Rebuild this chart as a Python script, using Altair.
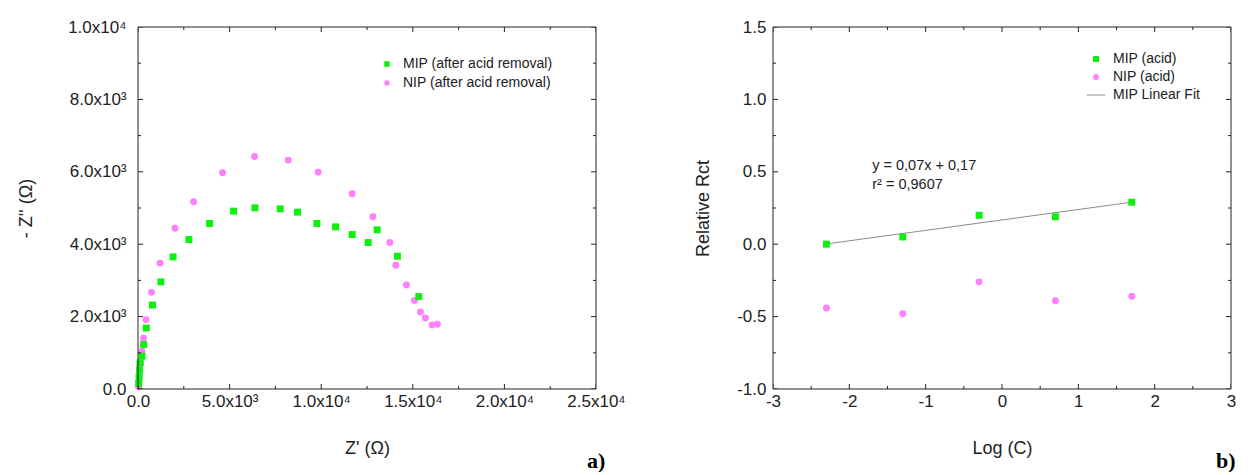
import altair as alt
import pandas as pd

# ---------------- Panel a) Nyquist data ----------------
mip_zre = [40, 60, 85, 110, 218, 310, 452, 790, 1250, 1915, 2782, 3909, 5218, 6382,
           7764, 8709, 9764, 10782, 11691, 12564, 13054, 14163, 15327]
mip_zim = [150, 330, 520, 720, 903, 1227, 1685, 2320, 2960, 3650, 4129, 4572, 4913, 5005,
           4977, 4885, 4572, 4479, 4267, 4046, 4397, 3668, 2553]
nip_zre = [30, 45, 60, 80, 110, 150, 218, 300, 440, 735, 1208, 2018, 3036, 4618, 6364,
           8200, 9836, 11691, 12818, 13745, 14072, 14654, 15091, 15418, 15691, 16054, 16345]
nip_zim = [60, 200, 350, 500, 650, 720, 1044, 1400, 1915, 2670, 3477, 4443, 5171, 5973, 6424,
           6323, 5991, 5392, 4756, 4046, 3420, 2876, 2443, 2129, 1963, 1770, 1788]
a_series = ["MIP (after acid removal)", "NIP (after acid removal)"]

# ---------------- Panel b) calibration data ----------------
logc = [-2.3, -1.3, -0.3, 0.7, 1.7]
mip_rel = [0.0, 0.05, 0.20, 0.19, 0.29]
nip_rel = [-0.44, -0.48, -0.26, -0.39, -0.36]
b_series = ["MIP (acid)", "NIP (acid)", "MIP Linear Fit"]
ann_x = [-1.70, -1.70]
ann_y = [0.54, 0.41]
ann_text = ["y = 0,07x + 0,17", "r² = 0,9607"]

# ---------------- Axis ticks / labels ----------------
a_x_dom = [0, 25000]
a_y_dom = [0, 10000]
b_x_dom = [-3, 3]
b_y_dom = [-1, 1.5]
a_x_ticks = [0, 2500, 5000, 7500, 10000, 12500, 15000, 17500, 20000, 22500, 25000]
a_x_labels = {0: "0.0", 5000: "5.0x10³", 10000: "1.0x10⁴", 15000: "1.5x10⁴",
              20000: "2.0x10⁴", 25000: "2.5x10⁴"}
a_y_ticks = [0, 1000, 2000, 3000, 4000, 5000, 6000, 7000, 8000, 9000, 10000]
a_y_labels = {0: "0.0", 2000: "2.0x10³", 4000: "4.0x10³", 6000: "6.0x10³",
              8000: "8.0x10³", 10000: "1.0x10⁴"}
b_x_ticks = [-3, -2.5, -2, -1.5, -1, -0.5, 0, 0.5, 1, 1.5, 2, 2.5, 3]
b_x_labels = {-3: "-3", -2: "-2", -1: "-1", 0: "0", 1: "1", 2: "2", 3: "3"}
b_y_ticks = [-1, -0.75, -0.5, -0.25, 0, 0.25, 0.5, 0.75, 1, 1.25, 1.5]
b_y_labels = {-1: "-1.0", -0.5: "-0.5", 0: "0.0", 0.5: "0.5", 1: "1.0", 1.5: "1.5"}

GREEN = "#0cf00c"
PINK = "#ff80ff"
GRAY = "#8c8c8c"
FONT = "Liberation Sans"
INK = "#222222"
W, H = 458, 362
MAJOR_LEN, MINOR_LEN = 10, 6   # doubled: half is clipped away, leaving inward ticks


def label_expr(mapping):
    s = "''"
    for k, v in reversed(list(mapping.items())):
        s = f"datum.value == {k} ? '{v}' : ({s})"
    return s


def axis(values, mapping, title, title_pad, label_pad):
    return alt.Axis(
        values=values, labelExpr=label_expr(mapping),
        grid=False, ticks=False, tickSize=0, domain=False,
        labelFont=FONT, labelFontSize=17, labelColor=INK, labelPadding=label_pad,
        labelFlush=False, labelOverlap=False,
        title=title, titleFont=FONT, titleFontSize=18, titleFontWeight="normal",
        titleColor=INK, titlePadding=title_pad,
    )


def frame_layers(xdom, ydom, xticks, xlabels, yticks, ylabels, ax, ay):
    """Frame box plus inward major/minor ticks on all four sides."""
    fr = pd.DataFrame({"x0": [xdom[0]], "x1": [xdom[1]], "y0": [ydom[0]], "y1": [ydom[1]]})
    frame = alt.Chart(fr).mark_rect(
        filled=False, stroke=INK, strokeWidth=1, fillOpacity=0
    ).encode(x=alt.X("x0:Q", axis=ax), x2="x1:Q",
             y=alt.Y("y0:Q", axis=ay), y2="y1:Q")
    xt = pd.DataFrame({
        "v": xticks * 2,
        "e": [ydom[0]] * len(xticks) + [ydom[1]] * len(xticks),
        "len": [MAJOR_LEN if t in xlabels else MINOR_LEN for t in xticks] * 2,
    })
    yt = pd.DataFrame({
        "v": yticks * 2,
        "e": [xdom[0]] * len(yticks) + [xdom[1]] * len(yticks),
        "len": [MAJOR_LEN if t in ylabels else MINOR_LEN for t in yticks] * 2,
    })
    xtk = alt.Chart(xt).mark_tick(orient="vertical", clip=True, color=INK,
                                  thickness=1, opacity=1).encode(
        x=alt.X("v:Q", axis=ax), y=alt.Y("e:Q", axis=ay),
        size=alt.Size("len:Q", scale=None, legend=None))
    ytk = alt.Chart(yt).mark_tick(orient="horizontal", clip=True, color=INK,
                                  thickness=1, opacity=1).encode(
        y=alt.Y("v:Q", axis=ay), x=alt.X("e:Q", axis=ax),
        size=alt.Size("len:Q", scale=None, legend=None))
    return [frame, xtk, ytk]


# ---------------- Panel a ----------------
df_a = pd.DataFrame({
    "zre": nip_zre + mip_zre,
    "zim": nip_zim + mip_zim,
    "series": [a_series[1]] * len(nip_zre) + [a_series[0]] * len(mip_zre),
})

legend_a = alt.Legend(orient="none", legendX=242, legendY=30, title=None,
                      labelFont=FONT, labelFontSize=14, labelColor=INK,
                      symbolSize=30, rowPadding=5, labelOffset=9, padding=0,
                      symbolStrokeWidth=0)

ax_a = axis(a_x_ticks, a_x_labels, "Z' (Ω)", 30, 4)
ay_a = axis(a_y_ticks, a_y_labels, "- Z'' (Ω)", 32, 12)

pts_a = alt.Chart(df_a).mark_point(filled=True, opacity=1, size=48).encode(
    x=alt.X("zre:Q", scale=alt.Scale(domain=a_x_dom, nice=False, zero=False), axis=ax_a),
    y=alt.Y("zim:Q", scale=alt.Scale(domain=a_y_dom, nice=False, zero=False), axis=ay_a),
    fill=alt.Fill("series:N", scale=alt.Scale(domain=a_series, range=[GREEN, PINK]),
                  legend=legend_a),
    shape=alt.Shape("series:N", scale=alt.Scale(domain=a_series, range=["square", "circle"]),
                    legend=legend_a),
)

tag_a = alt.Chart(pd.DataFrame({"t": ["a)"]})).mark_text(
    font="Liberation Serif", fontWeight="bold", fontSize=22, align="left",
    baseline="alphabetic", color="black"
).encode(text="t:N", x=alt.value(449), y=alt.value(441))

panel_a = alt.layer(
    pts_a,
    *frame_layers(a_x_dom, a_y_dom, a_x_ticks, a_x_labels, a_y_ticks, a_y_labels, ax_a, ay_a),
    tag_a,
).properties(width=W, height=H)

# ---------------- Panel b ----------------
df_b = pd.DataFrame({
    "logc": logc + logc,
    "rel": nip_rel + mip_rel,
    "series": [b_series[1]] * len(logc) + [b_series[0]] * len(logc),
})
df_ann = pd.DataFrame({"x": ann_x, "y": ann_y, "t": ann_text})

legend_b = alt.Legend(orient="none", legendX=316, legendY=25, title=None,
                      labelFont=FONT, labelFontSize=14, labelColor=INK,
                      symbolSize=26, rowPadding=4, labelOffset=10, padding=0,
                      symbolStrokeWidth=1)

ax_b = axis(b_x_ticks, b_x_labels, "Log (C)", 30, 4)
ay_b = axis(b_y_ticks, b_y_labels, "Relative Rct", 24, 7)
xb = alt.X("logc:Q", scale=alt.Scale(domain=b_x_dom, nice=False, zero=False), axis=ax_b)
yb = alt.Y("rel:Q", scale=alt.Scale(domain=b_y_dom, nice=False, zero=False), axis=ay_b)

fill_b = alt.Fill("series:N", scale=alt.Scale(domain=b_series, range=[GREEN, PINK, GRAY]),
                  legend=legend_b)
stroke_b = alt.Stroke("series:N", scale=alt.Scale(domain=b_series, range=[GREEN, PINK, GRAY]),
                      legend=legend_b)
shape_b = alt.Shape("series:N", scale=alt.Scale(domain=b_series,
                                                range=["square", "circle", "M-3.6,0H3.6"]),
                    legend=legend_b)

fit_b = alt.Chart(df_b).transform_filter(
    alt.datum.series == b_series[0]
).transform_regression("logc", "rel").transform_calculate(
    series=f"'{b_series[2]}'"
).mark_line(strokeWidth=1).encode(x=xb, y=yb, stroke=stroke_b)

pts_b = alt.Chart(df_b).mark_point(filled=True, opacity=1, size=48, strokeWidth=0).encode(
    x=xb, y=yb, fill=fill_b, shape=shape_b, stroke=stroke_b,
)

ann_b = alt.Chart(df_ann).mark_text(
    font=FONT, fontSize=14.5, align="left", baseline="middle", color=INK
).encode(x=alt.X("x:Q", axis=ax_b), y=alt.Y("y:Q", axis=ay_b), text="t:N")

tag_b = alt.Chart(pd.DataFrame({"t": ["b)"]})).mark_text(
    font="Liberation Serif", fontWeight="bold", fontSize=22, align="left",
    baseline="alphabetic", color="black"
).encode(text="t:N", x=alt.value(443), y=alt.value(441))

panel_b = alt.layer(
    fit_b, pts_b,
    *frame_layers(b_x_dom, b_y_dom, b_x_ticks, b_x_labels, b_y_ticks, b_y_labels, ax_b, ay_b),
    ann_b, tag_b,
).properties(width=W, height=H)

chart = alt.hconcat(panel_a, panel_b, spacing=177, bounds="flush").resolve_scale(
    fill="independent", shape="independent", stroke="independent", size="independent"
).resolve_legend(
    fill="independent", shape="independent", stroke="independent", size="independent"
).properties(
    padding={"left": 9, "top": 10, "right": 0, "bottom": 0},
    background="white",
).configure_view(stroke=None)

chart.save("out.html", embed_options={"renderer": "svg", "actions": False})
